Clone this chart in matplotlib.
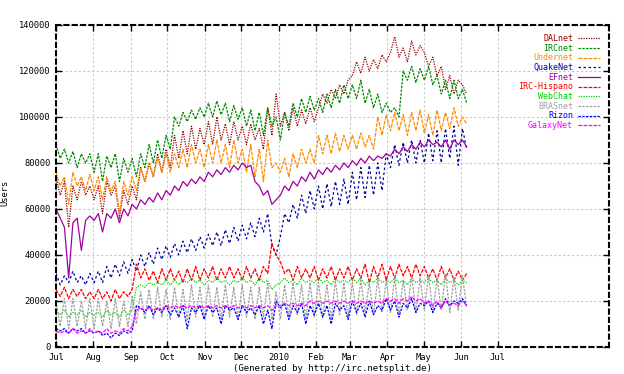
import matplotlib
matplotlib.use("Agg")
import matplotlib.pyplot as plt
import pandas as pd

# users in thousands, one value every 3.5 days from 2009-07-01 (weekday peak / weekend low)
start = "2009-07-01"
names = ["DALnet", "IRCnet", "Undernet", "QuakeNet", "EFnet",
         "IRC-Hispano", "WebChat", "BRASnet", "Rizon", "GalaxyNet"]
colours = ["#a00000", "#008a00", "#ff8c00", "#0000a0", "#a000a0",
           "#ff0000", "#00d000", "#a0a0a0", "#0000ff", "#ff00ff"]

dalnet = [74, 66, 72, 52, 70, 64, 72, 66, 70,
          64, 70, 58, 72, 66, 70, 56, 68, 62,
          70, 64, 78, 72, 80, 74, 84, 76, 86,
          78, 92, 82, 94, 84, 96, 86, 95, 88,
          98, 88, 100, 90, 97, 88, 98, 90,
          96, 88, 97, 90, 95, 86, 104, 92, 110,
          96, 102, 94, 104, 96, 103, 97, 104, 98,
          104, 110, 106, 112, 108, 114, 110, 116,
          118, 124, 119, 126, 120, 125, 121, 127, 124,
          128, 135, 126, 130, 124, 133, 127, 131,
          128, 122, 126, 118, 122, 112, 118, 110, 116,
          114, 110]
ircnet = [88, 82, 86, 80, 85, 78, 84, 80, 84,
          76, 84, 72, 83, 78, 84, 72, 82, 76,
          82, 74, 84, 78, 88, 80, 90, 82, 92,
          86, 100, 96, 102, 98, 103, 99, 104, 100,
          106, 100, 107, 101, 106, 98, 105, 99,
          104, 96, 103, 94, 102, 92, 104, 96, 100,
          90, 102, 96, 106, 100, 108, 102, 109, 103,
          108, 102, 110, 104, 112, 106, 114, 108,
          114, 108, 116, 106, 112, 104, 110, 102, 106,
          102, 104, 100, 120, 116, 122, 115, 121,
          116, 122, 114, 118, 110, 116, 108, 116, 108,
          112, 106]
undernet = [76, 70, 74, 62, 76, 70, 74, 68, 75,
            68, 74, 64, 74, 68, 72, 58, 72, 66,
            74, 68, 78, 72, 80, 74, 82, 76, 84,
            76, 84, 78, 86, 78, 88, 80, 86, 78,
            88, 80, 90, 80, 88, 78, 90, 80,
            86, 76, 88, 74, 86, 72, 90, 78, 80,
            76, 82, 74, 84, 78, 86, 80, 86, 80,
            92, 84, 92, 84, 93, 85, 92, 86,
            92, 86, 93, 87, 92, 86, 100, 92, 101,
            94, 102, 94, 101, 92, 102, 94, 103,
            93, 101, 92, 103, 94, 102, 95, 104, 96,
            100, 97]
quakenet = [32, 27, 31, 28, 33, 28, 31, 27, 32,
            28, 33, 28, 35, 30, 36, 31, 37, 32,
            38, 33, 40, 35, 41, 36, 43, 38, 44,
            39, 45, 40, 46, 41, 47, 42, 48, 43,
            49, 44, 50, 44, 51, 45, 52, 46,
            53, 47, 54, 48, 56, 50, 58, 44, 40,
            48, 58, 54, 62, 56, 66, 58, 68, 60,
            70, 60, 71, 61, 72, 62, 73, 62,
            76, 64, 78, 65, 79, 66, 80, 68, 84,
            78, 88, 79, 89, 80, 90, 80, 90,
            80, 93, 81, 94, 80, 95, 82, 96, 79,
            95, 86]
efnet = [60, 56, 52, 30, 54, 56, 42, 55, 57,
         55, 58, 50, 58, 56, 60, 54, 60, 57,
         62, 60, 64, 62, 65, 63, 67, 64, 68,
         66, 70, 68, 72, 70, 73, 71, 74, 72,
         76, 74, 77, 75, 78, 76, 79, 77,
         80, 78, 79, 72, 70, 66, 68, 62, 64,
         66, 70, 68, 72, 70, 74, 72, 76, 73,
         77, 75, 78, 76, 79, 77, 80, 78,
         81, 79, 82, 80, 83, 81, 83, 82, 84,
         83, 86, 84, 87, 85, 88, 86, 89,
         87, 90, 88, 89, 87, 90, 86, 90, 88,
         90, 87]
hispano = [25, 22, 26, 21, 25, 22, 25, 21, 24,
           21, 25, 21, 24, 20, 25, 21, 24, 22,
           25, 36, 30, 34, 29, 33, 28, 34, 29,
           34, 29, 33, 28, 34, 29, 35, 29, 34,
           30, 35, 29, 34, 30, 35, 30, 34,
           29, 35, 30, 34, 29, 35, 32, 45, 40,
           37, 32, 34, 29, 35, 30, 34, 30, 35,
           29, 34, 30, 35, 29, 34, 30, 35,
           29, 34, 30, 36, 28, 35, 30, 36, 29,
           35, 30, 36, 31, 35, 30, 36, 31,
           35, 30, 34, 29, 35, 30, 34, 29, 33,
           29, 32]
webchat = [15, 14, 16, 13, 15, 14, 16, 13, 15,
           14, 15, 13, 16, 14, 15, 13, 16, 14,
           16, 26, 27, 26, 28, 27, 28, 27, 29,
           27, 29, 27, 29, 28, 30, 28, 29, 27,
           29, 28, 30, 28, 29, 27, 29, 28,
           30, 28, 29, 27, 30, 28, 29, 25, 27,
           28, 30, 28, 29, 27, 30, 28, 29, 28,
           30, 28, 29, 27, 30, 28, 29, 28,
           30, 28, 30, 27, 29, 28, 30, 28, 29,
           28, 30, 28, 29, 27, 30, 28, 29,
           28, 30, 28, 29, 27, 30, 28, 29, 27,
           29, 28]
brasnet = [20, 9, 21, 8, 21, 9, 20, 8, 21,
           8, 21, 9, 20, 8, 21, 9, 20, 9,
           22, 10, 24, 12, 25, 12, 26, 13, 25,
           12, 26, 13, 25, 12, 27, 13, 26, 12,
           27, 13, 26, 12, 27, 13, 26, 12,
           27, 13, 26, 12, 26, 13, 28, 12, 24,
           12, 27, 13, 28, 14, 27, 12, 28, 13,
           28, 13, 27, 12, 29, 14, 28, 13,
           28, 14, 29, 15, 28, 14, 30, 15, 29,
           15, 30, 14, 29, 16, 31, 15, 30,
           16, 31, 15, 30, 16, 32, 15, 30, 16,
           31, 17]
rizon = [8, 7, 8, 6, 8, 7, 8, 6, 7,
         6, 7, 5, 6, 4, 6, 5, 7, 6,
         7, 18, 17, 15, 18, 14, 17, 15, 18,
         14, 17, 13, 18, 8, 17, 15, 18, 12,
         18, 15, 17, 10, 18, 16, 17, 12,
         18, 15, 17, 14, 18, 10, 16, 8, 20,
         17, 19, 12, 18, 15, 19, 10, 18, 14,
         19, 13, 18, 10, 19, 16, 18, 12,
         20, 15, 19, 13, 20, 14, 18, 16, 21,
         16, 20, 13, 19, 17, 21, 15, 19,
         18, 20, 15, 19, 17, 21, 18, 20, 19,
         21, 18]
galaxynet = [7, 6, 7, 6, 8, 6, 7, 6, 8,
             6, 7, 6, 8, 6, 7, 6, 8, 7,
             9, 16, 17, 16, 17, 16, 17, 16, 18,
             17, 18, 17, 18, 17, 18, 17, 18, 17,
             18, 17, 18, 17, 18, 17, 18, 17,
             18, 17, 18, 17, 18, 17, 18, 16, 18,
             18, 19, 18, 19, 18, 19, 18, 20, 19,
             20, 19, 20, 19, 20, 19, 20, 19,
             20, 19, 20, 19, 20, 19, 20, 19, 21,
             20, 21, 19, 21, 20, 22, 20, 21,
             19, 20, 18, 20, 17, 20, 18, 19, 18,
             20, 18]

series = [dalnet, ircnet, undernet, quakenet, efnet,
          hispano, webchat, brasnet, rizon, galaxynet]
dashes = [(1, 1), (2, 1), (3, 1), (2, 2), (None, None),
          (3, 1), (1, 1), (2, 1), (2, 1), (3, 1)]

month_ticks = pd.date_range("2009-07-01", "2010-07-01", freq="MS")
month_labels = ["Jul", "Aug", "Sep", "Oct", "Nov", "Dec", "2010",
                "Feb", "Mar", "Apr", "May", "Jun", "Jul"]
y_ticks = [0, 20000, 40000, 60000, 80000, 100000, 120000, 140000]

plt.rcParams["font.family"] = "DejaVu Sans Mono"

fig = plt.figure(figsize=(6.24, 3.74), dpi=100)
ax = fig.add_axes([0.0897, 0.0722, 0.886, 0.861])

for vals, name, col, d in zip(series, names, colours, dashes):
    dates = pd.date_range(start, periods=len(vals), freq="84h")
    users = [v * 1000 for v in vals]
    if d[0] is None:
        ax.plot(dates, users, color=col, lw=0.9, label=name)
    else:
        ax.plot(dates, users, color=col, lw=0.9, dashes=d, label=name)

ax.set_xlim(pd.Timestamp("2009-07-01"), pd.Timestamp("2010-10-01"))
ax.set_ylim(0, 140000)
ax.set_xticks(month_ticks)
ax.set_xticklabels(month_labels)
ax.set_yticks(y_ticks)
ax.set_yticklabels([str(t) for t in y_ticks])
ax.tick_params(direction="in", length=4, width=1, labelsize=6.3,
               top=True, right=True, pad=4)
ax.grid(True, color="#c8c8c8", linestyle=(0, (2, 2)), linewidth=0.8)
for s in ax.spines.values():
    s.set_linestyle((0, (2, 2)))
    s.set_linewidth(1.5)

ax.set_ylabel("Users", fontsize=6.3)
ax.yaxis.set_label_coords(-0.084, 0.48)
ax.set_xlabel("(Generated by http://irc.netsplit.de)", fontsize=6.5, labelpad=2)

ax.legend(loc="upper right", frameon=False, fontsize=6, markerfirst=False,
          handlelength=2.6, labelspacing=0.08, borderaxespad=0.9,
          borderpad=0.2, labelcolor="linecolor", handletextpad=0.6)

plt.savefig("out.png", dpi=100)
